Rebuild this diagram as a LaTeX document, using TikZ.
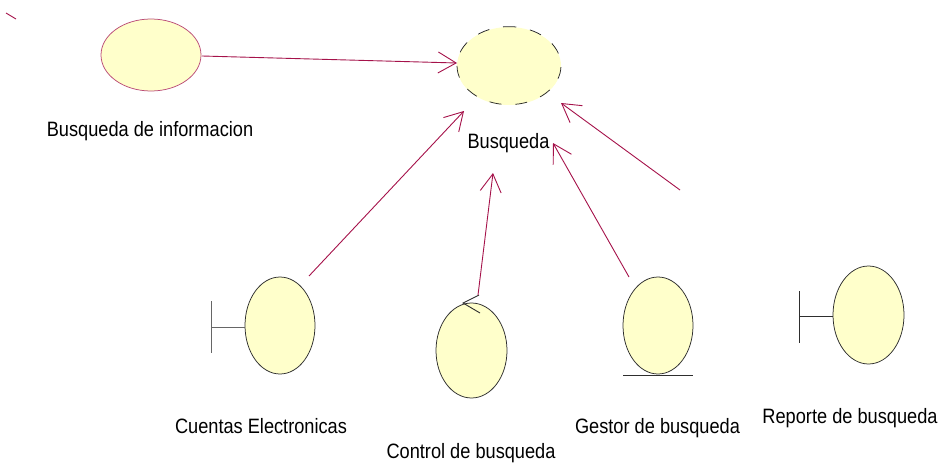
\documentclass[tikz,border=0pt]{standalone}
\usepackage{fontspec}
\setmainfont[FakeStretch=0.875]{Liberation Sans}
\usetikzlibrary{shapes.geometric,arrows.meta}
\definecolor{fillyellow}{HTML}{FFFFCB}
\definecolor{crim}{HTML}{A5124A}
\definecolor{edgegray}{HTML}{2E2E2E}
\tikzset{
  elem/.style={ellipse,draw=edgegray,fill=fillyellow,line width=.75pt,inner sep=0pt,minimum width=#1},
  lbl/.style={font=\fontsize{20.8}{22}\selectfont,text=black,inner sep=0pt,anchor=base},
  assoc/.style={draw=crim,line width=.9pt,-{Straight Barb[length=18pt,width=21pt,line width=.9pt]}},
  mark line/.style={draw=edgegray,line width=.9pt}
}
\begin{document}
\begin{tikzpicture}[x=1pt,y=-1pt]
\useasboundingbox (0,0) rectangle (942,463);
% ellipses
\node[elem=100pt,minimum height=72pt,draw=crim!75!white] (info) at (151,55) {};
\node[elem=104pt,minimum height=78pt,draw=none] (busq) at (509,66) {};
\draw[black!85,line width=.75pt,dash pattern=on 12pt off 14pt,dash phase=6pt] (busq.north) arc[start angle=90,end angle=450,x radius=52pt,y radius=39pt];
\node[elem=70pt,minimum height=97pt] (cuentas) at (280,325.5) {};
\node[elem=71pt,minimum height=95pt] (control) at (471.5,350.5) {};
\node[elem=70pt,minimum height=97pt] (gestor) at (658,325.5) {};
\node[elem=71pt,minimum height=98pt] (reporte) at (868.5,315) {};
% labels
\node[lbl] (linfo) at (150,136.5) {Busqueda de informacion};
\node[lbl] (lbusq) at (508.5,148) {Busqueda};
\node[lbl] (lcuentas) at (261,433) {Cuentas Electronicas};
\node[lbl] (lcontrol) at (471,458) {Control de busqueda};
\node[lbl] (lgestor) at (657.5,433) {Gestor de busqueda};
\node[lbl] (lreporte) at (850,423) {Reporte de busqueda};
% stereotype marks
\coordinate (cb1) at (211,301);
\coordinate (cb2) at (211,353);
\coordinate (cb3) at (211,327);
\coordinate (cb4) at (245,327);
\draw[draw=black!60,line width=.9pt] (cb1) -- (cb2) (cb3) -- (cb4);
\coordinate (rb1) at (799,291);
\coordinate (rb2) at (799,343);
\coordinate (rb3) at (799,316);
\coordinate (rb4) at (833,316);
\draw[mark line] (rb1) -- (rb2) (rb3) -- (rb4);
\coordinate (ca1) at (479,295);
\coordinate (ca2) at (463,303);
\coordinate (ca3) at (480,313);
\draw[mark line] (ca1) -- (ca2) -- (ca3);
\coordinate (gu1) at (623,375);
\coordinate (gu2) at (693,375);
\draw[mark line] (gu1) -- (gu2);
% connectors
\coordinate (a1s) at (202,56);
\coordinate (a1e) at (457,63);
\draw[assoc] (a1s) -- (a1e);
\coordinate (a2s) at (309,276);
\coordinate (a2e) at (464,111);
\draw[assoc] (a2s) -- (a2e);
\coordinate (a3s) at (478,295);
\coordinate (a3e) at (493,173);
\draw[assoc] (a3s) -- (a3e);
\coordinate (a4s) at (629,277);
\coordinate (a4e) at (553,143);
\draw[assoc] (a4s) -- (a4e);
\coordinate (a5s) at (680,190);
\coordinate (a5e) at (561,103);
\draw[assoc] (a5s) -- (a5e);
\coordinate (st1) at (6,13);
\coordinate (st2) at (16,19);
\draw[draw=crim,line width=.9pt] (st1) -- (st2);
\end{tikzpicture}
\end{document}
